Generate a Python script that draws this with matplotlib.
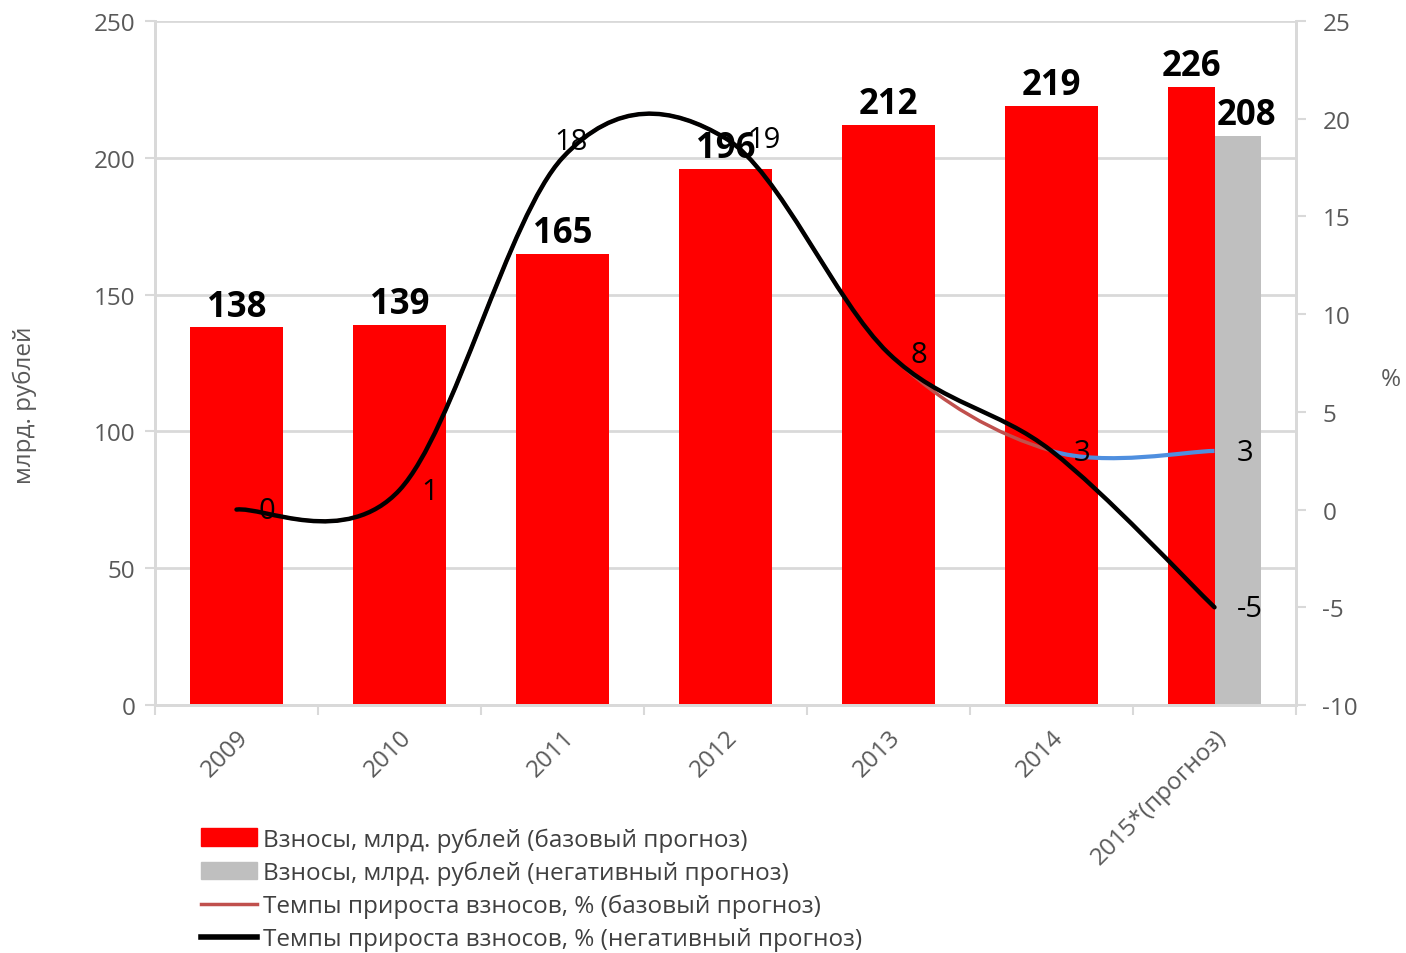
import numpy as np
import matplotlib as mpl
mpl.use('Agg')
import matplotlib.pyplot as plt
from matplotlib.path import Path
from matplotlib.patches import PathPatch, Patch
from matplotlib.lines import Line2D

plt.rcParams['font.family'] = ['Open Sans', 'DejaVu Sans']
plt.rcParams['axes.unicode_minus'] = False

years = ['2009', '2010', '2011', '2012', '2013', '2014', '2015*(прогноз)']
vznosy_base = [138, 139, 165, 196, 212, 219, 226]
vznosy_neg_2015 = 208
tempy_base = [0, 1, 18, 19, 8, 3, 3]
tempy_neg = [0, 1, 18, 19, 8, 3, -5]

red = '#ff0000'
grey = '#bfbfbf'
grid_c = '#d9d9d9'
tick_c = '#595959'


def smooth_path(xs, ys, i0=0, i1=None):
    # excel-like smoothed line: cubic bezier through the points
    n = len(xs)
    if i1 is None:
        i1 = n - 1
    pts = list(zip(xs, ys))
    verts = [pts[i0]]
    codes = [Path.MOVETO]
    for i in range(i0, i1):
        p0 = np.array(pts[max(i - 1, 0)], float)
        p1 = np.array(pts[i], float)
        p2 = np.array(pts[i + 1], float)
        p3 = np.array(pts[min(i + 2, n - 1)], float)
        c1 = p1 + (p2 - p0) / 6.0
        c2 = p2 - (p3 - p1) / 6.0
        verts += [tuple(c1), tuple(c2), tuple(p2)]
        codes += [Path.CURVE4] * 3
    return Path(verts, codes)


fig = plt.figure(figsize=(14.06, 9.54), dpi=100)
ax = fig.add_axes([155 / 1406, 1 - 706 / 954, 1141 / 1406, 684 / 954])
ax2 = ax.twinx()

x = np.arange(len(years))
w = 0.57
# red bars 2009-2014 full width, 2015 split with grey bar
ax.bar(x[:-1], vznosy_base[:-1], width=w, color=red, zorder=2)
ax.bar(x[-1] - w / 4, vznosy_base[-1], width=w / 2, color=red, zorder=2)
ax.bar(x[-1] + w / 4, vznosy_neg_2015, width=w / 2, color=grey, zorder=2)

for i, v in enumerate(vznosy_base[:-1]):
    ax.annotate(str(v), (x[i], v), xytext=(0, 2), textcoords='offset points',
                ha='center', va='bottom', fontsize=25, fontweight='bold', color='black')
ax.annotate(str(vznosy_base[-1]), (x[-1] - w / 4, vznosy_base[-1]), xytext=(0, 2),
            textcoords='offset points', ha='center', va='bottom', fontsize=25,
            fontweight='bold', color='black')
ax.annotate(str(vznosy_neg_2015), (x[-1] + w / 4, vznosy_neg_2015), xytext=(6, 2),
            textcoords='offset points', ha='center', va='bottom', fontsize=25,
            fontweight='bold', color='black')

ax.set_xlim(-0.5, len(years) - 0.5)
ax.set_ylim(0, 250)
ax.set_yticks(np.arange(0, 251, 50))
ax.yaxis.grid(True, color=grid_c, lw=2, zorder=0)
ax.set_axisbelow(True)
ax.set_xticks(np.arange(-0.5, len(years), 1.0))
ax.set_xticklabels([])
ax.set_xticks(x, minor=True)
ax.set_xticklabels(years, minor=True, rotation=45, ha='right', rotation_mode='anchor',
                   fontsize=17.5, color=tick_c)
ax.tick_params(axis='x', which='minor', length=0, pad=14)
ax.tick_params(axis='x', which='major', length=7, width=1.5, color=grid_c, direction='out')
ax.tick_params(axis='y', length=7, width=1.5, color=grid_c, labelsize=17.5, labelcolor=tick_c, pad=7)
for s in ['top']:
    ax.spines[s].set_visible(False)
for s in ['left', 'bottom', 'right']:
    ax.spines[s].set_color(grid_c)
    ax.spines[s].set_linewidth(2)

ax2.set_ylim(-10, 25)
ax2.set_yticks(np.arange(-10, 26, 5))
ax2.tick_params(axis='y', length=7, width=1.5, color=grid_c, labelsize=17.5, labelcolor=tick_c, pad=12)
ax2.spines['top'].set_visible(False)
for s in ['left', 'bottom', 'right']:
    ax2.spines[s].set_color(grid_c)
    ax2.spines[s].set_linewidth(2)

# base forecast growth line: red, last segment blue
ax2.add_patch(PathPatch(smooth_path(x, tempy_base, 0, 5), fill=False, ec='#c0504d', lw=2.5, zorder=3))
ax2.add_patch(PathPatch(smooth_path(x, tempy_base, 5, 6), fill=False, ec='#4f8fdf', lw=3, zorder=3))
# negative forecast growth line
ax2.add_patch(PathPatch(smooth_path(x, tempy_neg), fill=False, ec='black', lw=3.2, zorder=4,
                        capstyle='round'))

for i, v in enumerate(tempy_neg):
    if i == 2:
        ax2.annotate(str(v), (x[i], v), xytext=(6, 12), textcoords='offset points',
                     ha='center', va='center', fontsize=21, color='black', zorder=5)
    else:
        ax2.annotate(str(v), (x[i], v), xytext=(16, -1), textcoords='offset points',
                     ha='left', va='center', fontsize=21, color='black', zorder=5)
ax2.annotate(str(tempy_base[-1]), (x[-1], tempy_base[-1]), xytext=(16, -1),
             textcoords='offset points', ha='left', va='center', fontsize=21, color='black')

fig.text(25 / 1406, 1 - 405 / 954, 'млрд. рублей', rotation=90, ha='center', va='center',
         fontsize=17.5, color=tick_c)
fig.text(1391 / 1406, 1 - 380 / 954, '%', ha='center', va='center', fontsize=17.5, color=tick_c)

handles = [Patch(color=red), Patch(color=grey),
           Line2D([], [], color='#c0504d', lw=2.5), Line2D([], [], color='black', lw=4)]
labels = ['Взносы, млрд. рублей (базовый прогноз)',
          'Взносы, млрд. рублей (негативный прогноз)',
          'Темпы прироста взносов, % (базовый прогноз)',
          'Темпы прироста взносов, % (негативный прогноз)']
fig.legend(handles, labels, loc='upper left', bbox_to_anchor=(189 / 1406, 1 - 816 / 954),
           frameon=False, fontsize=17.5, labelcolor='#404040', handlelength=2.3,
           handleheight=0.7, handletextpad=0.25, labelspacing=0.37, borderpad=0)

plt.savefig('out.png', dpi=100)
